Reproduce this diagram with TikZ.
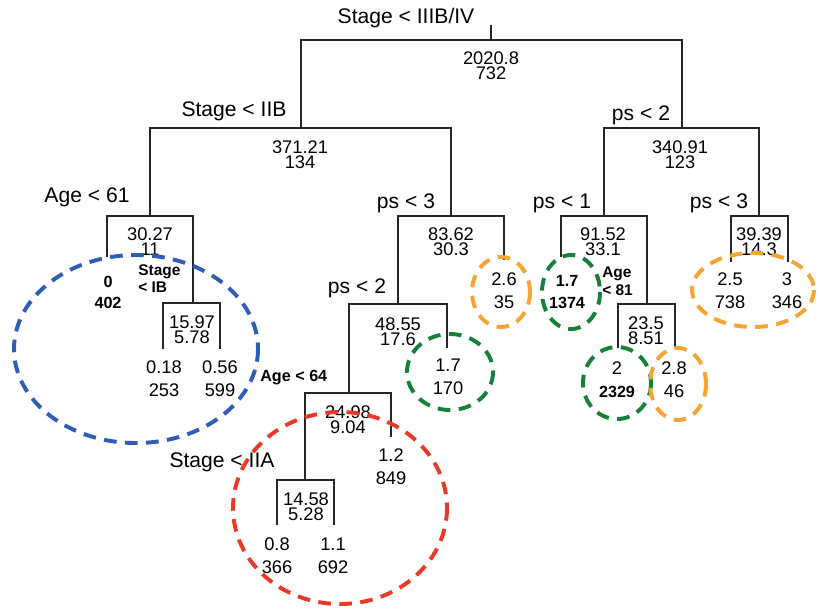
\documentclass[tikz,border=0pt]{standalone}
\usepackage{fontspec}
\setmainfont{Liberation Sans}
\definecolor{grpblue}{RGB}{46,92,182}
\definecolor{grpred}{RGB}{236,56,38}
\definecolor{grpgreen}{RGB}{22,128,58}
\definecolor{grporange}{RGB}{246,164,52}
\begin{document}
\begin{tikzpicture}[x=0.025cm, y=-0.025cm,
    split/.style={font=\fontsize{15}{18}\selectfont, inner sep=0pt},
    stat/.style={font=\fontsize{13}{10.7}\selectfont, align=center, inner sep=0pt},
    leaf/.style={font=\fontsize{13}{16.4}\selectfont, align=center, inner sep=0pt},
    bleaf/.style={font=\bfseries\fontsize{11.5}{15.5}\selectfont, align=center, inner sep=0pt},
    note/.style={font=\bfseries\fontsize{11}{12.5}\selectfont, align=left, inner sep=0pt, anchor=west},
    branch/.style={line width=0.9pt, black!85},
    group/.style={draw=#1, line width=2.8pt, dash pattern=on 9pt off 6pt}]
    \useasboundingbox (0,0) rectangle (820,611);
    \coordinate (top) at (491,25);
    \coordinate (s0) at (491,40);
    \coordinate (s1) at (301,128);
    \coordinate (s2) at (682,128);
    \coordinate (s3) at (150,216);
    \coordinate (s4) at (451,216);
    \coordinate (s5) at (193,303);
    \coordinate (s6) at (398,304);
    \coordinate (s7) at (349,393);
    \coordinate (s8) at (305,480);
    \coordinate (s9) at (604,216);
    \coordinate (s10) at (759,216);
    \coordinate (s11) at (647,304);
    \coordinate (l1) at (107,257);
    \coordinate (l2) at (163,349);
    \coordinate (l3) at (220,349);
    \coordinate (l4) at (504,260);
    \coordinate (l5) at (447,348);
    \coordinate (l6) at (391,437);
    \coordinate (l7) at (277,525);
    \coordinate (l8) at (334,525);
    \coordinate (l9) at (561,257);
    \coordinate (l10) at (618,348);
    \coordinate (l11) at (675,348);
    \coordinate (l12) at (731,262);
    \coordinate (l13) at (788,262);
    \draw[branch] (top) -- (s0);
    \draw[branch] (s1) |- (s0) -| (s2);
    \draw[branch] (s3) |- (s1) -| (s4);
    \draw[branch] (l1) |- (s3) -| (s5);
    \draw[branch] (l2) |- (s5) -| (l3);
    \draw[branch] (s6) |- (s4) -| (l4);
    \draw[branch] (s7) |- (s6) -| (l5);
    \draw[branch] (s8) |- (s7) -| (l6);
    \draw[branch] (l7) |- (s8) -| (l8);
    \draw[branch] (s9) |- (s2) -| (s10);
    \draw[branch] (l9) |- (s9) -| (s11);
    \draw[branch] (l10) |- (s11) -| (l11);
    \draw[branch] (l12) |- (s10) -| (l13);
    \node[split] (t0) at (406,18) {Stage < IIIB/IV};
    \node[split] (t1) at (234,111) {Stage < IIB};
    \node[split] (t2) at (641,115) {ps < 2};
    \node[split] (t3) at (87,197) {Age < 61};
    \node[split] (t4) at (406,203) {ps < 3};
    \node[split] (t6) at (357,288) {ps < 2};
    \node[split] (t8) at (222,462) {Stage < IIA};
    \node[split] (t9) at (562,203) {ps < 1};
    \node[split] (t10) at (719,203) {ps < 3};
    \node[stat] (v0) at (491,66) {2020.8\\732};
    \node[stat] (v1) at (300,154.5) {371.21\\134};
    \node[stat] (v2) at (680,154.5) {340.91\\123};
    \node[stat] (v3) at (150,242) {30.27\\11};
    \node[stat] (v4) at (451,242) {83.62\\30.3};
    \node[stat] (v5) at (192,330) {15.97\\5.78};
    \node[stat] (v6) at (398,331.5) {48.55\\17.6};
    \node[stat] (v7) at (348,420) {24.98\\9.04};
    \node[stat] (v8) at (306,506.5) {14.58\\5.28};
    \node[stat] (v9) at (603,241.5) {91.52\\33.1};
    \node[stat] (v10) at (759,242) {39.39\\14.3};
    \node[stat] (v11) at (646,330.5) {23.5\\8.51};
    \node[bleaf] (f1) at (108,292.5) {0\\402};
    \node[leaf] (f2) at (164,378.5) {0.18\\253};
    \node[leaf] (f3) at (220,378.5) {0.56\\599};
    \node[leaf] (f4) at (504,290.5) {2.6\\35};
    \node[leaf] (f5) at (448,376.5) {1.7\\170};
    \node[leaf] (f6) at (391,467) {1.2\\849};
    \node[leaf] (f7) at (277,555.5) {0.8\\366};
    \node[leaf] (f8) at (333,555.5) {1.1\\692};
    \node[bleaf] (f9) at (567,292) {1.7\\1374};
    \node[leaf] (f10) at (617,380) {2\\{\bfseries\fontsize{11.5}{14}\selectfont 2329}};
    \node[leaf] (f11) at (674,379.5) {2.8\\46};
    \node[leaf] (f12) at (730,291) {2.5\\738};
    \node[leaf] (f13) at (787,291) {3\\346};
    \node[note] (m5) at (138,278.5) {Stage\\< IB};
    \node[note] (m11) at (602,281.5) {Age\\< 81};
    \node[note, font=\bfseries\fontsize{11.5}{14}\selectfont] (m7) at (260,378) {Age < 64};
    \draw[group=grpblue] (136,349) ellipse [x radius=122, y radius=94];
    \draw[group=grpred] (340,508) ellipse [x radius=107, y radius=96];
    \draw[group=grporange] (501,292) ellipse [x radius=29, y radius=35];
    \draw[group=grpgreen] (450,372) ellipse [x radius=43, y radius=38];
    \draw[group=grpgreen] (571,292) ellipse [x radius=29, y radius=37];
    \draw[group=grpgreen] (617,383) ellipse [x radius=34, y radius=36];
    \draw[group=grporange] (678,384) ellipse [x radius=28, y radius=36];
    \draw[group=grporange] (753,290) ellipse [x radius=61, y radius=37];
\end{tikzpicture}
\end{document}
